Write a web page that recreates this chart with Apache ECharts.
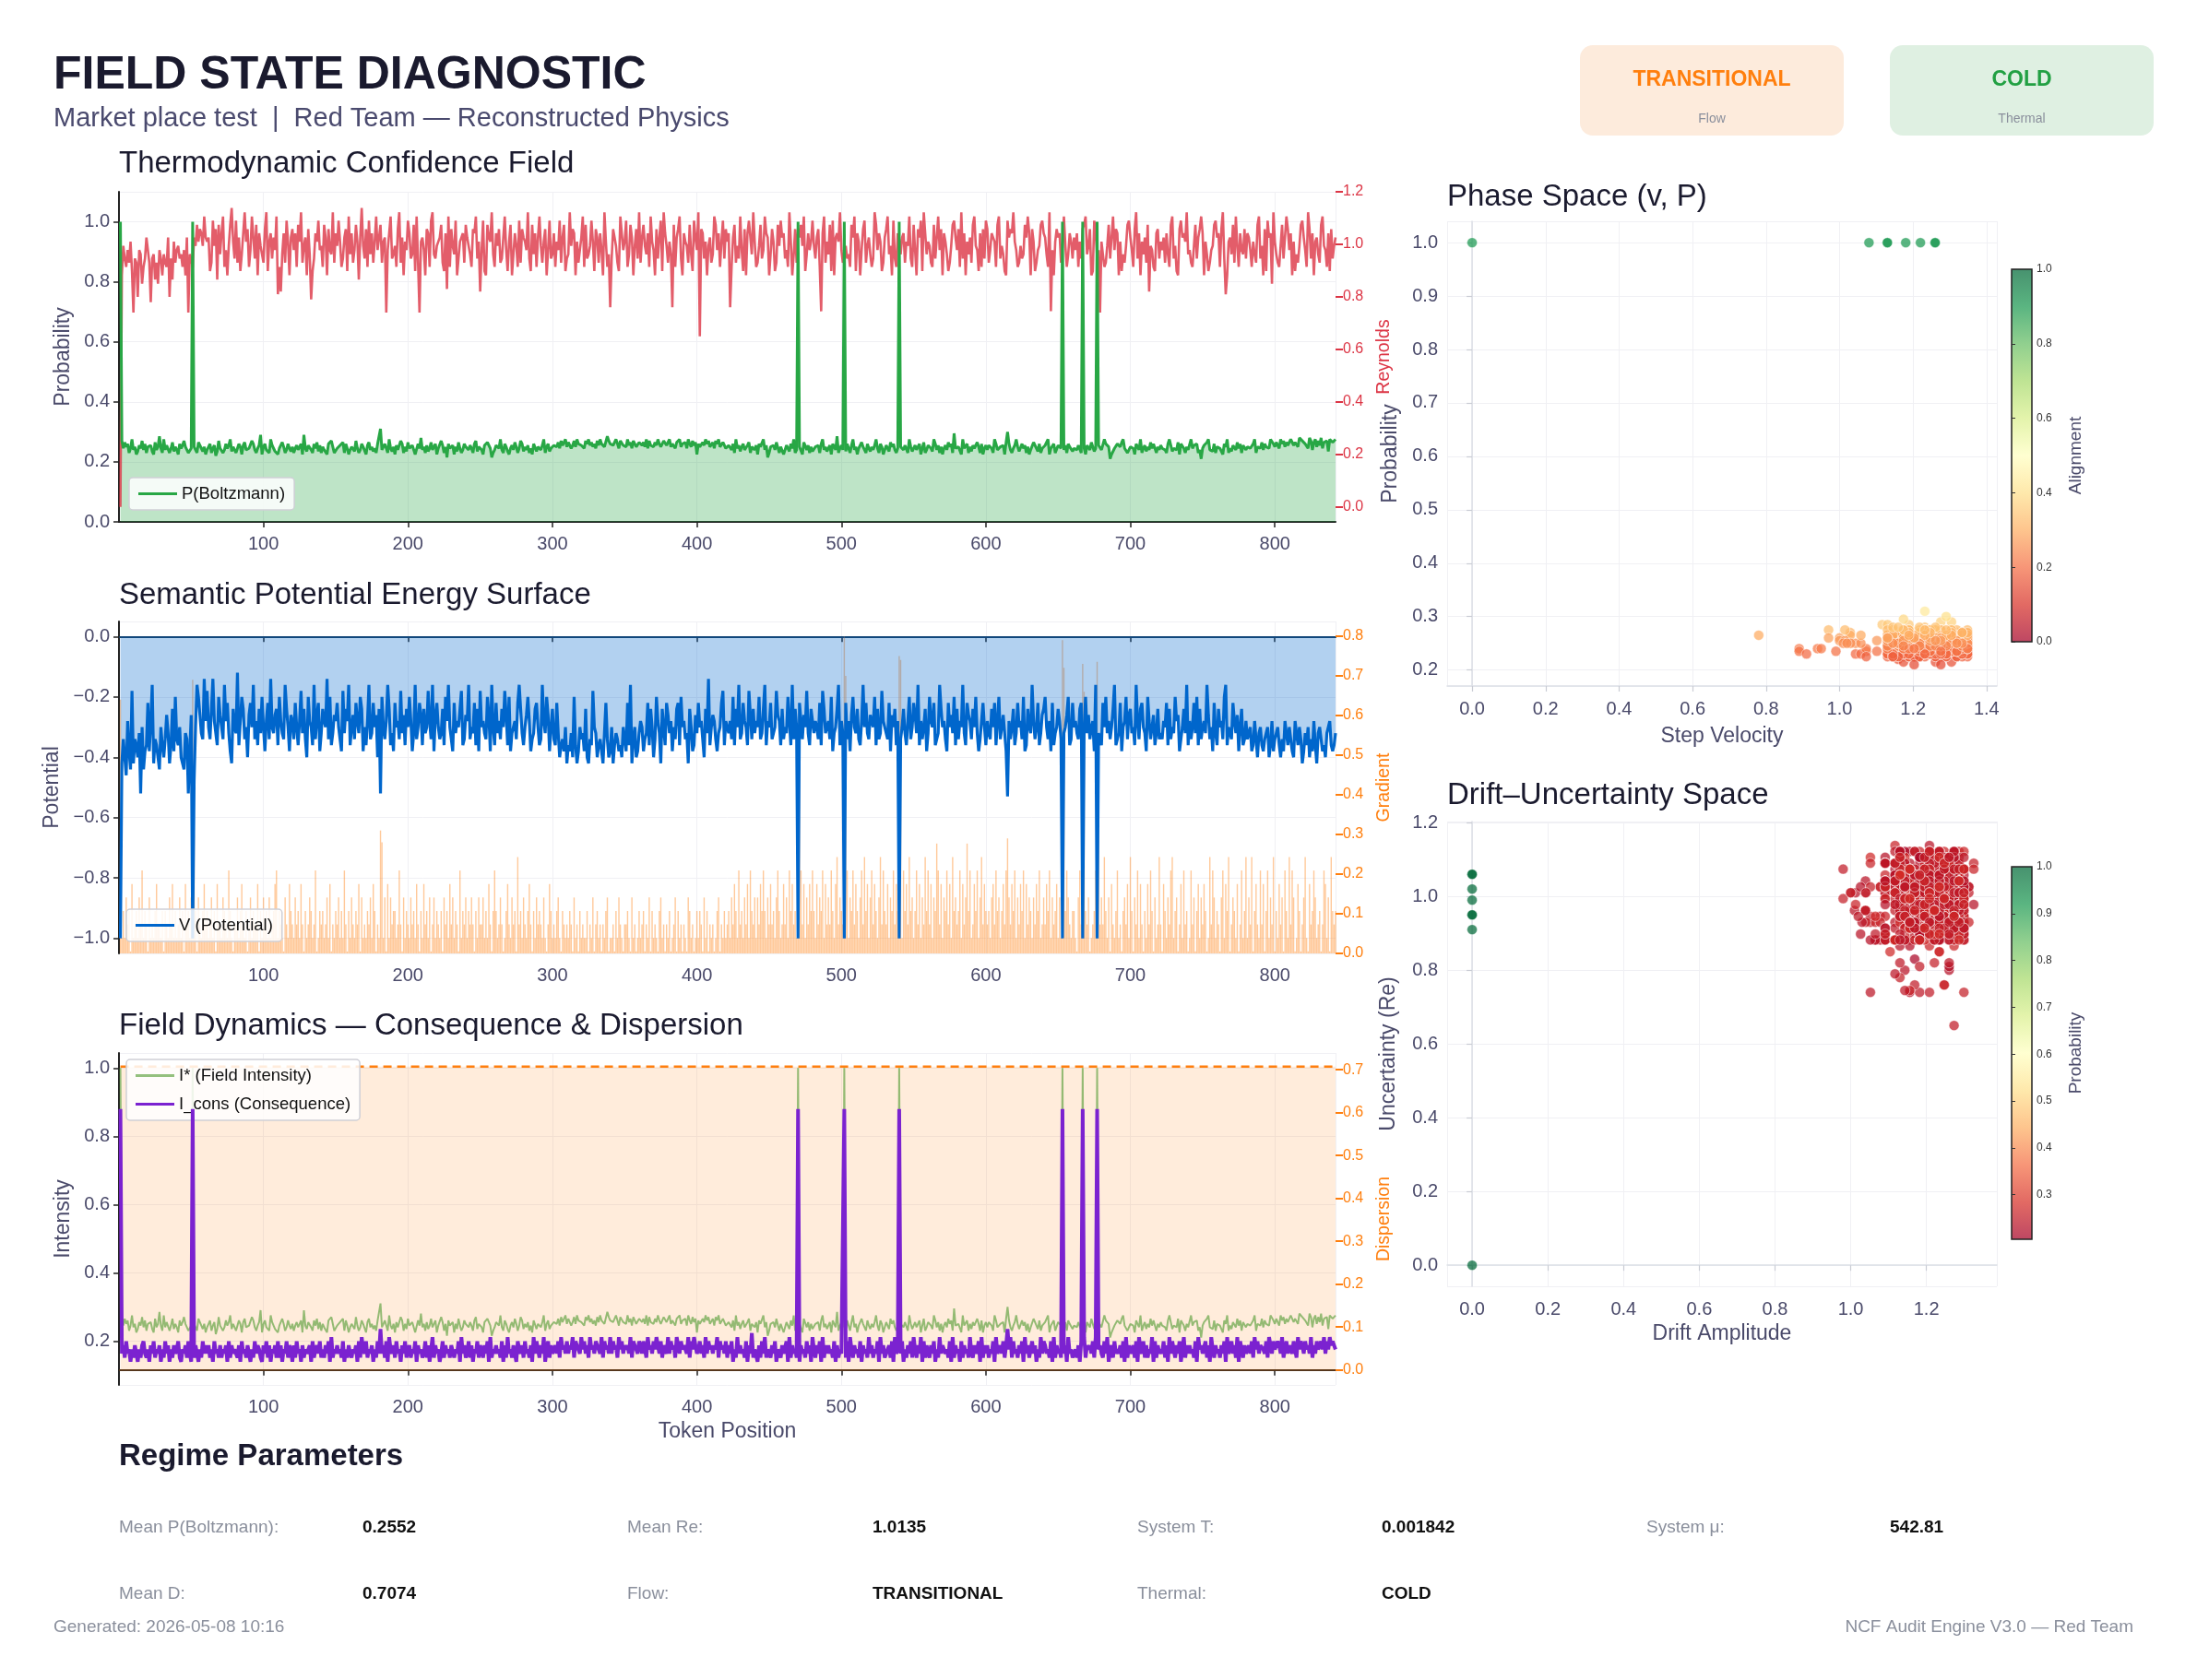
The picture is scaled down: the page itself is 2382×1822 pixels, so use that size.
<!DOCTYPE html>
<html>
<head>
<meta charset="utf-8">
<title>Field State Diagnostic</title>
<script src="https://cdn.jsdelivr.net/npm/echarts@6.0.0/dist/echarts.min.js"></script>
<style>
  html, body { margin: 0; padding: 0; background: #fff; }
  #main { width: 2382px; height: 1822px; }
</style>
</head>
<body>
<div id="main"></div>
<script>
const FONT = '"Liberation Sans", Arial, sans-serif';
const INK = '#1a1a2e';
const SLATE = '#4a4a6a';
const MUTED = '#8a8f9c';

const N = 842; // token positions 1..842

// per-token readings, one character per token (letters a..z or digits 0..9),
// value = base + step * code ; spikes and outliers are listed separately below
const P_CODE = `
mpkolnhkqj lgimkpjnhl kmigojlskh qjmlhkoilj gnkmpljhik nljhomkilg
jlnhkmfipk lhjnkmqilj hknlgmojik lpnjhkmtgl njkhqmlijg kmolhjnkil
hkmjlngtki mljhnkoimh ljkgnmplhi kjmlohnkgj lmipkhjnlk gmojlikhnm
kjlnmhqkil gmjkpnhlio kjmlghnkrj lhmikojlng kjpmhlenkj mgliokhjnl
ljmkhnpilk jgmlonkehj mlkqjhnlig kmjolhkpni ljmhkgnoil kjmqhlnikj
mnlokpmnql onkmplqnom lkpnqmolnk pmqnolkspn omlqnkpomn lqmokpnlmo
nmolqkpmnl omqnlkpomn qlnmkopqln mokqnlpmog nlkomqnplm okpnqlmonk
kmljnhqkmi lnjkmohlkj mgnlkqjmeh lkmjonhlkg jmlinkqhjm lkgonjmhli
jlkmhnqjli kmgnljshkm jlinkhmqjl gkmoljhnki ljmqkhnlgj mkiolnjhkm
lkjmnhqlik mjlngkohjm lkiqnjmhlg kmjolnhukj lmgqkjnhli mkjolhngkm
jmlkhqnjil kmgolnjhkm qlijnkmhlg jkomlinhkj mlqgkjnhim lkojmhnlki
kljmnhqkgm ljonikhmlj kqnmldghkj nmloqkjhil mkgnljqhkm iljoknmhlj
mkljhnqmik ljognmkhlj iqkmlnhjdk mloqjkinhl mkjgnlqhki mljoknhmlj
lmkjnqhlmk ojnlmkqpnl omkqnplomn qpmonlrqpo nmkrpjoqlp mrkonpiqro
pqornsqpmo rqnpsoqrnp qosrpnqmro sqpnroqpsn rqpomsrqnp oqsrnpqomr
pqornsqpmo rqnpsoqrnp qosrpnqmro sqpnroqpsn rqpomsrqnp oqsrnpqomr`;
const P_BASE = 0.195, P_STEP = 0.005;

const RE_CODE = `
mholjnkpig lkhnmfjlqn kolmgkfnlh mkjqhlgpkn olmjnhqkml nqotpsrovq
pqikuosgtm rvjnhotxpl ukqimrwpsj nvqlthromk swiprlqnvo jtmrkuphqs
nrjtpwkoqh smvilrpuno jtqhsnmwkr oupjlqsivm rkntpgqxol sjumrkpvnq
tkpqinrvlm ojswkqhpnu rlmtivkopq nhsrjuwmlo pqtkirnvjs omuhlpqrkt
qomjsrvlpk nuihtqpwmj rosklqvnip thmrojuksq pnwlitmrjq vokpshnulm
rjpnukqtil mwosrhpknq vjtlmoupis qkrnhwpjmt lsqokivrnp ujmtqhoslw
kqtomrjvpn hslquiwrok pmntjqsvlh rpoktmiuqn wjsrlphoqk mvtnrjpuls
prmjqtkolv nishruqmwp jkotlnvrqh mspiktouqr lnjwphmskr qtovimrnpu
olqsjnrvkp mtiuhqrpwn ksolmjtqvi rphnsukoqm jlwtnrpikq svmohuljrp
mqrkpovljt nhsquiwrmp okjtlqvnsh rpmikotuqn sjwlrhpmqk tvonirjslu
sknrqpjtvl omihuqsrwp njkolmtqvr hspiknotur qmjwlnhpsq rktvojmrpl
qnrjplktvm oshiurqnwp mjkotlqvns rhpimkotuq njswlrhpmq ktvonjirsl
pnqkrmjtvl oihsuqrpwm nkjotlqsvr hpmiknotuq rjswlnhpqm tkvojrnmsl
rqnjpmktvl ohsiuqrnwp mkjotlqvsn rhpimkotuq njwslrhpqm ktvonjrisl
oqnrpsmtul kqnrposmtv lnqrpomsku tnqrpvmosl kqnrpsmotu lnqrpomskv
oqnrpsmtul kqnrposmtv lnqrpomsku tnqrpvmosl kqnrpsmotu lnqrpomskv`;
const RE_BASE = 0.77, RE_STEP = 0.016;

const V_CODE = `
nqmpsjoreq mnplvkrong ojdqmnprkn pmilqnhofm nkpqrlmvoi hgkdfilmcj
ekmhcjlnfi kmdjgloqhk lbnjfhmkpi gkdmjnhlfk ojgmcklihn fjlmdhkoij
mgknjelhmp fjkndmigol hjkcmfnlij gkmoelhjdn kimgjlfhok njdmlgkiph
lfkmjdhnlo gkjmelinhk fjoldmkgin hlkejmdoig kmlhnfjdkm ogljkhenmi
jdmklgnhoe kjlmfiodkn gljmhkeinf olkjmgdhln kifjomlhgk nmdjlfiokh
mnglpnmokq nolpfnqokm lohpqmnekl pnmoqlgmpo kqnlmonpkm ogndqmkpol
jkomlgnhkp mfjlqhkngi ljokmhgnfk jmlqhkonil gkjmphlcnk ijmolkgenj
kljmfnhkdm lgjkneimhl jkfmlhdnjk gmlkeijnhm klfjndmhkl gjmikelnhj
ljkmgnehlk jmfolkhdnj lkgmjoifkl hmnjdkglmi jkfnhmlejk lmgoikhnjd
mkhlnjfmkg ildnjmkhol fjkgnmldhk jmogkilfnh mjkdlngijm hkflomjgkn
jlmhkgnjfm kilodjmkhn lgkjmfonhk ldjmkgnlih fkmjognlkh jmdlkifnmg
kjlmhgnkfl imkjodhlmn gkfljmkhdn mlgokjfmih lkndjmhgkl ofjmkinlhm
lmjkgnhmkl fjiomkhldn jmkglfnhmk jldimkogln hkjmfdnklm gjliokhnmj
mlkonjmplk nomlkpnjom lknpmojlnk mopjlnkmqo lnkpmojnql kmonplkjno
nlkmopjnmk lonmkpjlon kmlnojpkml nokmjlpnok mlnjokmpln kjomnlpkmo
nlkmopjnmk lonmkpjlon kmlnojpkml nokmjlpnok mlnjokmpln kjomnlpkmo`;
const V_BASE = -0.10, V_STEP = -0.02;

const GRAD_CODE = `
2131423051 2314261320 4121352213 0321425131 2413052314 1230421352
3124130522 1432163102 2413521302 4132250314 2314123561 3210421532
1423152031 2431260132 3124150213 2413162031 4213250412 1324153021
2314051423 3126204132 1423152031 5231402413 2130423152 4132061324
1324203142 2413152036 3124201352 1423072314 2135203142 3214102531
2134103212 1320412031 2113021402 3120213401 1203142102 2310412013
1230214031 2103412021 3012403120 2104312013 1320413021 2013402131
2314253162 3142516324 1425363142 5231463125 2416352314 3625142536
3152436152 4263157243 2536143625 3146273514 6253147263 2514362537
4163527341 3625142736 2514386251 4362517342 3615248361 2536147253
2314526341 3526142536 1425361524 3142536124 2536142351 4125364213
3104625132 4012361524 2731405213 6120342517 3042615203 1526304127
2053142671 3402516230 1624035142 5301726413 2046153702 4315026137
1427035216 2503614270 3152406317 2640153024 7105236412 3026514073
2316045127 4032615302 1736204513 2450316207 5123064312 2604153216
2316045127 4032615302 1736204513 2450316207 5123064312 2604153216`;
const GRAD_BASE = 0.005, GRAD_STEP = 0.034;

const ICONS_CODE = `
5463745253 6425367435 2647354625 3746253645 7325463742 5364253746
4635274536 3546273645 5362745364 2537465326 4736254637 3625473652
6374526354 4627356473 5364728354 6453725364 3546273854 7354625374
5463728546 3745264735 6354726453 4736258364 5247364536 6354728463
4736254736 5364728354 6453726384 5364275463 7453628475 3648257364
5647385647 4658376548 5746385647 6548375648 4756385746 5648376547
6475385647 5864736548 4756386475 6548375864 5746384756 4658375647
3647253846 4537264935 5263748354 3647255364 4728364537 2645374628
5364728364 6453726354 4637285364 5372645384 6354728463 4563728456
4725364738 5364827364 3647253846 6453728364 5273645384 3645728364
6354728456 4736258374 5364728463 3746253847 6453728364 5374628453
4536274836 5647382564 3748256374 5463728364 4637285473 6354827364
5473628475 3647258364 6453728564 4736285364 5364728457 4638275364
5647385746 6547386475 5764835746 6475385764 7564836475 6758475867
6574857364 7586475867 6475867584 7586475867 5847586475 6758475867
6574857364 7586475867 6475867584 7586475867 5847586475 6758475867`;
const ICONS_BASE = 0.115, ICONS_STEP = 0.012;

const VEL_CODE = `
rpwmtkyqnu pshvoxmrlt qwnjspuiyo mtrxlpvkqs nwortjumxp lsvqnyrmtk
pxmsqvltnw korympsfuq vnxlptmwrk oyqsnuhvmp txlrkwonsq mvjyptrnxo
sqwmpvntkx oryjlsumqw pnvtxkmrsl ywqopjanst vmkxrqpwol tsnymvjrpu
qvntyxmrpl skwocquvnm rxtplymsqk wnovjrtums xpklqyvnrw mtosjxpuqn
vmrxsqpkwt nyojlurmsv qxpntwkmro yslvqdptnx uwmrkosqyv lpntxjrmqw
oxsqmvntrw kpyulqsmxj vnortpwdqm ysxlnvrjpt oqumwxskyn rvplqtmjox
trnvqmxsop wkyljurnqs mtxpvowkrn lysqjmvtcu nprkqwomsy vlxtnjqrmp
wqspmxnkrv tyoljsuwqm pnxrvktmsy oqwljnepux ksmtvyqnor wlpxmjsutq
nvrqxmtpsk yowljrnumq sxptvkmroy nqwlsfxtpv rmukoyqswn tlvxrmpjqo
sxqnvmrtwk pyolujsqnx mrvtpwbyos qnlxjvrmut wspkyonqxr vlmtjsupqn
rwpnxmsvqt kyolujrsnw mqxvptkyro snlwexqmuv trpkyosnwq xlmvjrtupo
qxrnwmpvst kolyujqrnx msvwptfryo qnlxjsrmvu wtpkyonsqx rlmwjvtupq
wsqnxmrvpt kyoljusnqx wmrvtpkyos nqxbjrwmuv stpkoynqxr wlmvjstupq
pwrnxmqvst kyoljurqnw xmsvtpkyro qnwejxsmvu rtpkyonqwx slmvjrtupq
xqrnwmpvts kyolujsqnx wmrvptkyos nqlxjwrmuv tspkyoqnxr wlmvjstupq
xqrnwmpvts kyolujsqnx wmrvptkyos nqlxjwrmuv tspkyoqnxr wlmvjstupq`;
const VEL_BASE = 1.0, VEL_STEP = 0.0145;

const DRIFT_CODE = `
pmtkrvnqhe xslpuimwro tkqnvjsxpf mrokuwqbtn vplsjrxmog kunwtpilrs
qnvlsowkrd thpuxjnqsl owmrkvtdnj suqlxohrme pktnwsjqou lrmvxkpgts
rtmpkwnvsf oqjxhurmtp lnsvkowqrd mtxpluhnsq wrkvompjte nlsqurhkvo
tnrlxpmqwk soujvgrntp mxlqskwoty vrnpuhmxlq tskwojnrvp mqluxtkhse
plwrnxtmqk svojuhrlpw nmtxkqsoca rlupwnhmtx kqsvojrlnu pwmtxhkqso
mqvsrknwtp loxjuhrfms qvpltkwyoj nrmusqhlvt pkwxoseurn quvltphkwx
snqxmrtwpk vloujhsnrg mxtpvkwlos jrnqumhzpt svklwojnrq mutxphvkls
rvnwxmtqps kloujhrnvw qmxtpskwle jrnvuqmhxp tslkwodvnr qmutxphksl
wqnsxmrtvp kloehjrnsq wmxtvpklos rjnquwmhyt psvklojrnw qumtxhpvsk
nrwqxmstpv kloujfnrwq smxtvpkzls jrnqwumhxt spvklojrnq wumtxhpsvk
qsnwxrmtpv klojuhqsnr wmxtvpkcos jnrqwumxht psvkljorng wumxthpsvk
rwqnxsmtvp lkoujhrwqn smytvplkos jrnwqumxht pvskljoqre wmuxtphvsk
swqnxrtmvp lkojuhswqd rmxtvplkos jwnrqumzth pvsklojqnr wmuxtphvks
wsqnxrmtpv lkoujhwsqn rmxtpvlkob jwnqrumxth psvkfjoqnr wmutxphskv
qswnxrmtvp klojuhqswn rmxtvpklos jwnqrumxht psvklojqnr wmutxphvsk
qswnxrmtvp klojuhqswn rmxtvpklos jwnqrumxht psvklojqnr wmutxphvsk`;
const DRIFT_BASE = 1.0, DRIFT_STEP = 0.013;

// spikes and outliers: [token, value]
const SPIKE_X = [1, 51, 470, 502, 540, 653, 667, 677];
const P_EVENTS = [[1, 1], [51, 1], [470, 1], [502, 1], [540, 1], [653, 1], [667, 1], [677, 1],
  [181, 0.31], [615, 0.30]];
const RE_EVENTS = [[1, 0.0], [10, 0.74], [13, 0.80], [22, 0.78], [35, 0.80], [48, 0.74], [51, 0.91],
  [110, 0.81], [112, 0.82], [133, 0.79], [185, 0.74], [208, 0.74], [227, 0.83], [250, 0.82],
  [340, 0.76], [383, 0.76], [402, 0.65], [423, 0.76], [470, 1.06], [486, 0.745], [502, 0.95],
  [540, 1.02], [645, 0.745], [653, 0.99], [667, 1.06], [677, 0.95], [679, 0.74], [713, 0.82],
  [766, 0.81], [798, 0.85]];
const V_EVENTS = [[1, -1], [51, -1], [470, -1], [502, -1], [540, -1], [653, -1], [667, -1], [677, -1],
  [52, -0.48], [181, -0.52], [615, -0.53]];
const GRAD_EVENTS = [[1, 0.64], [51, 0.69], [52, 0.30], [181, 0.31], [182, 0.28], [470, 0.58],
  [471, 0.55], [502, 0.80], [503, 0.70], [540, 0.75], [541, 0.74], [615, 0.29], [653, 0.79],
  [654, 0.72], [667, 0.73], [668, 0.66], [677, 0.735], [678, 0.45]];
const ICONS_EVENTS = [[1, 0.88], [51, 0.88], [470, 0.88], [502, 0.88], [540, 0.88], [653, 0.88],
  [667, 0.88], [677, 0.88], [181, 0.235], [615, 0.235]];
const VEL_EVENTS = [[1, 0], [51, 1.08], [470, 1.13], [502, 1.13], [540, 1.18], [653, 1.22],
  [667, 1.26], [677, 1.26], [37, 0.78], [88, 0.89], [150, 0.89], [212, 0.91], [260, 0.94],
  [300, 0.95], [333, 0.97], [390, 0.97], [430, 0.99], [560, 1.00], [610, 1.01], [700, 1.03], [760, 1.02]];
const DRIFT_EVENTS = [[1, 0], [51, 0], [470, 0], [502, 0], [540, 0], [653, 0], [667, 0], [677, 0],
  [66, 0.98], [240, 0.98], [350, 1.00], [410, 1.04], [520, 1.01], [590, 1.03], [720, 1.02], [800, 1.04]];

const DISPERSION = 0.7074;

const PARAM_LABELS = [['Mean P(Boltzmann):', 'Mean Re:', 'System T:', 'System \u03bc:'],
                      ['Mean D:', 'Flow:', 'Thermal:']];
const PARAM_VALUES = [['0.2552', '1.0135', '0.001842', '542.81'],
                      ['0.7074', 'TRANSITIONAL', 'COLD']];

function decode(code, base, step, events) {
  const s = code.replace(/\s+/g, '');
  const out = [];
  for (let i = 0; i < N; i++) {
    const c = s.charCodeAt(i);
    const k = c >= 97 ? c - 97 : c - 48;
    out.push(+(base + step * k).toFixed(4));
  }
  events.forEach(([x, v]) => { out[x - 1] = v; });
  return out;
}

const P = decode(P_CODE, P_BASE, P_STEP, P_EVENTS);
const RE = decode(RE_CODE, RE_BASE, RE_STEP, RE_EVENTS);
const V = decode(V_CODE, V_BASE, V_STEP, V_EVENTS);
const GRAD = decode(GRAD_CODE, GRAD_BASE, GRAD_STEP, GRAD_EVENTS);
const ICONS = decode(ICONS_CODE, ICONS_BASE, ICONS_STEP, ICONS_EVENTS);
const VEL = decode(VEL_CODE, VEL_BASE, VEL_STEP, VEL_EVENTS);
const DRIFT = decode(DRIFT_CODE, DRIFT_BASE, DRIFT_STEP, DRIFT_EVENTS);

const byToken = arr => arr.map((v, i) => [i + 1, v]);

const RDYLGN = ['#a50026', '#d73027', '#f46d43', '#fdae61', '#fee08b', '#ffffbf',
                '#d9ef8b', '#a6d96a', '#66bd63', '#1a9850', '#006837'];
// alignment colours for the phase plot: warm for the low-probability cluster, green at P = 1
const PHASE_COLORS = ['#dd3a2b', '#f46d43', '#fdae61', '#fee08b', '#ffffbf']
  .concat(new Array(20).fill('#1a9850'));

// ---------- axes helpers ----------
const fmt1 = v => v.toFixed(1).replace('-', '\u2212');
const gridLine = { show: true, lineStyle: { color: '#f0f0f4', width: 1 } };
const spine = { show: true, lineStyle: { color: '#222', width: 2 } };
const darkTick = { show: true, length: 6, lineStyle: { color: '#222', width: 1.5 } };

function tokenAxis(gridIndex, name) {
  return {
    type: 'value', gridIndex, min: 0, max: N, interval: 100,
    axisLine: spine, axisTick: darkTick, splitLine: gridLine,
    axisLabel: { color: SLATE, fontSize: 20, fontFamily: FONT, margin: 14, showMinLabel: false, showMaxLabel: false },
    name: name || '', nameLocation: 'middle', nameGap: 39,
    nameTextStyle: { color: SLATE, fontSize: 23, fontFamily: FONT }
  };
}
function leftAxis(gridIndex, min, max, step, name, gap, showMin, showMax) {
  return {
    type: 'value', gridIndex, position: 'left', min, max, minInterval: step, maxInterval: step,
    axisLine: spine, axisTick: darkTick, splitLine: gridLine,
    axisLabel: { color: SLATE, fontSize: 20, fontFamily: FONT, margin: 10, formatter: fmt1,
      showMinLabel: showMin, showMaxLabel: showMax },
    name, nameLocation: 'middle', nameRotate: 90, nameGap: gap,
    nameTextStyle: { color: SLATE, fontSize: 23, fontFamily: FONT }
  };
}
function rightAxis(gridIndex, min, max, step, name, color, showMin, showMax) {
  return {
    type: 'value', gridIndex, position: 'right', min, max, minInterval: step, maxInterval: step,
    axisLine: { show: false }, splitLine: { show: false },
    axisTick: { show: true, length: 8, lineStyle: { color, width: 2 } },
    axisLabel: { color, fontSize: 16, fontFamily: FONT, margin: 8, formatter: fmt1,
      showMinLabel: showMin, showMaxLabel: showMax },
    name, nameLocation: 'middle', nameRotate: 90, nameGap: 43,
    nameTextStyle: { color, fontSize: 19.5, fontFamily: FONT }
  };
}
const lightLine = { show: true, lineStyle: { color: '#dcdfe6', width: 1.5 } };
const lightTick = { show: true, length: 6, lineStyle: { color: '#c9ccd4', width: 1.2 } };
function scatterAxis(gridIndex, min, max, step, name, gap, isY) {
  return {
    type: 'value', gridIndex, min, max, minInterval: step, maxInterval: step,
    axisLine: lightLine, axisTick: lightTick, splitLine: gridLine,
    axisLabel: { color: SLATE, fontSize: 20, fontFamily: FONT, margin: isY ? 10 : 15, formatter: fmt1,
      showMinLabel: false, showMaxLabel: false },
    name, nameLocation: 'middle', nameGap: gap, nameRotate: isY ? 90 : 0,
    nameTextStyle: { color: SLATE, fontSize: 23, fontFamily: FONT }
  };
}
function barAxis(gridIndex, min, max, step, name, showMin) {
  return {
    type: 'value', gridIndex, position: 'right', min, max, minInterval: step, maxInterval: step,
    axisLine: { show: false }, splitLine: { show: false },
    axisTick: { show: true, length: 4, lineStyle: { color: '#333', width: 1 } },
    axisLabel: { color: '#333', fontSize: 12, fontFamily: FONT, margin: 5, formatter: fmt1,
      showMinLabel: showMin, showMaxLabel: true },
    name, nameLocation: 'middle', nameRotate: 90, nameGap: 38,
    nameTextStyle: { color: SLATE, fontSize: 19, fontFamily: FONT }
  };
}

// ---------- graphic (header, badges, titles, colorbars, parameters) ----------
const txt = (x, y, text, font, fill, align) => ({
  type: 'text', x, y, silent: true,
  style: { text, font: font + ' ' + FONT, fill, align: align || 'left', verticalAlign: 'middle' }
});
const cbStops = RDYLGN.map((c, i) => ({ offset: i / 10, color: c }));
const colorbar = (x, y, w, h) => [
  { type: 'rect', shape: { x, y, width: w, height: h }, silent: true,
    style: { fill: new echarts.graphic.LinearGradient(0, 1, 0, 0, cbStops), opacity: 0.72 } },
  { type: 'rect', shape: { x, y, width: w, height: h }, silent: true,
    style: { fill: 'none', stroke: '#222', lineWidth: 1.5 } }
];

const graphic = [
  txt(58, 82, 'FIELD STATE DIAGNOSTIC', 'bold 50px', INK),
  txt(58, 129, 'Market place test  |  Red Team \u2014 Reconstructed Physics', '29px', '#4a4a6e'),
  { type: 'rect', shape: { x: 1713, y: 49, width: 286, height: 98, r: 14 }, silent: true, style: { fill: '#fdebdc' } },
  { type: 'rect', shape: { x: 2049, y: 49, width: 286, height: 98, r: 14 }, silent: true, style: { fill: '#dff0e2' } },
  txt(1856, 87, 'TRANSITIONAL', 'bold 23px', '#ff7f0e', 'center'),
  txt(1856, 129, 'Flow', '14px', MUTED, 'center'),
  txt(2192, 87, 'COLD', 'bold 23px', '#22a043', 'center'),
  txt(2192, 129, 'Thermal', '14px', MUTED, 'center'),
  txt(129, 178, 'Thermodynamic Confidence Field', '33px', INK),
  txt(129, 646, 'Semantic Potential Energy Surface', '33px', INK),
  txt(129, 1113, 'Field Dynamics \u2014 Consequence & Dispersion', '33px', INK),
  txt(1569, 214, 'Phase Space (v, P)', '33px', INK),
  txt(1569, 863, 'Drift\u2013Uncertainty Space', '33px', INK),
  ...colorbar(2181, 292, 22, 404),
  ...colorbar(2181, 940, 22, 404),
  txt(129, 1580, 'Regime Parameters', 'bold 33px', INK),
  txt(58, 1765, 'Generated: 2026-05-08 10:16', '19px', MUTED),
  txt(2313, 1765, 'NCF Audit Engine V3.0 \u2014 Red Team', '19px', MUTED, 'right')
];
const colLabelX = [129, 680, 1233, 1785], colValueX = [393, 946, 1498, 2049], rowY = [1657, 1729];
PARAM_LABELS.forEach((row, r) => row.forEach((label, c) => {
  graphic.push(txt(colLabelX[c], rowY[r], label, '19px', MUTED));
  graphic.push(txt(colValueX[c], rowY[r], PARAM_VALUES[r][c], 'bold 19px', '#111'));
}));

// ---------- chart ----------
const chart = echarts.init(document.getElementById('main'), null, { renderer: 'canvas' });

const legendBase = {
  orient: 'vertical', icon: 'rect', itemWidth: 42, itemHeight: 3, itemGap: 12,
  backgroundColor: 'rgba(255,255,255,0.85)', borderColor: '#cfcfd6', borderWidth: 1.5, borderRadius: 4,
  padding: [8, 10], textStyle: { color: '#111', fontSize: 18.5, fontFamily: FONT }, selectedMode: false
};

const option = {
  animation: false,
  backgroundColor: '#ffffff',
  textStyle: { fontFamily: FONT },
  graphic,
  grid: [
    { left: 129, top: 208, width: 1319, height: 358, outerBoundsMode: 'none' },
    { left: 129, top: 674, width: 1319, height: 360, outerBoundsMode: 'none' },
    { left: 129, top: 1142, width: 1319, height: 360, outerBoundsMode: 'none' },
    { left: 1569, top: 240, width: 596, height: 504, outerBoundsMode: 'none' },
    { left: 1569, top: 891, width: 596, height: 504, outerBoundsMode: 'none' },
    { left: 2181, top: 292, width: 22, height: 404, outerBoundsMode: 'none' },
    { left: 2181, top: 940, width: 22, height: 404, outerBoundsMode: 'none' }
  ],
  xAxis: [
    tokenAxis(0), tokenAxis(1), tokenAxis(2, 'Token Position'),
    scatterAxis(3, -0.068, 1.428, 0.2, 'Step Velocity', 43, false),
    scatterAxis(4, -0.066, 1.386, 0.2, 'Drift Amplitude', 40, false),
    { type: 'value', gridIndex: 5, show: false, min: 0, max: 1 },
    { type: 'value', gridIndex: 6, show: false, min: 0, max: 1 }
  ],
  yAxis: [
    leftAxis(0, 0, 1.1, 0.2, 'Probability', 48, true, false),
    rightAxis(0, -0.057, 1.2, 0.2, 'Reynolds', '#dc3545', false, true),
    leftAxis(1, -1.05, 0.05, 0.2, 'Potential', 59, false, false),
    rightAxis(1, 0, 0.837, 0.1, 'Gradient', '#ff7f0e', true, false),
    leftAxis(2, 0.071, 1.044, 0.2, 'Intensity', 48, false, false),
    rightAxis(2, -0.035, 0.739, 0.1, 'Dispersion', '#ff7f0e', false, false),
    scatterAxis(3, 0.17, 1.04, 0.1, 'Probability', 50, true),
    scatterAxis(4, -0.057, 1.203, 0.2, 'Uncertainty (Re)', 52, true),
    barAxis(5, 0, 1, 0.2, 'Alignment', true),
    barAxis(6, 0.205, 1.0, 0.1, 'Probability', false)
  ],
  legend: [
    { ...legendBase, left: 140, top: 518, data: ['P(Boltzmann)'] },
    { ...legendBase, left: 137, top: 986, data: ['V (Potential)'] },
    { ...legendBase, left: 137, top: 1149, data: ['I* (Field Intensity)', 'I_cons (Consequence)'] }
  ],
  visualMap: [
    { type: 'continuous', show: false, seriesIndex: 7, dimension: 1, min: 0.2, max: 1.0,
      inRange: { color: PHASE_COLORS } },
    { type: 'continuous', show: false, seriesIndex: 8, dimension: 2, min: 0.205, max: 1.0,
      inRange: { color: RDYLGN } }
  ],
  series: [
    { name: 'Reynolds', type: 'line', xAxisIndex: 0, yAxisIndex: 1, data: byToken(RE),
      showSymbol: false, color: 'rgba(220,53,69,0.8)', lineStyle: { width: 2.6 } },
    { name: 'P(Boltzmann)', type: 'line', xAxisIndex: 0, yAxisIndex: 0, data: byToken(P),
      showSymbol: false, color: '#28a745', lineStyle: { width: 3 },
      areaStyle: { color: 'rgba(40,167,69,0.3)', opacity: 1 } },
    { name: 'V (Potential)', type: 'line', xAxisIndex: 1, yAxisIndex: 2, data: byToken(V),
      showSymbol: false, color: '#0066cc', lineStyle: { width: 3.2 },
      areaStyle: { color: 'rgba(0,102,204,0.3)', opacity: 1 },
      markLine: { silent: true, symbol: 'none', label: { show: false },
        lineStyle: { color: 'rgba(0,102,204,0.35)', width: 2, type: 'solid' }, data: [{ yAxis: 0 }] } },
    { name: 'Gradient', type: 'bar', xAxisIndex: 1, yAxisIndex: 3, data: byToken(GRAD),
      barWidth: 1.4, itemStyle: { color: 'rgba(255,127,14,0.42)' } },
    { name: 'I* (Field Intensity)', type: 'line', xAxisIndex: 2, yAxisIndex: 4, data: byToken(P),
      showSymbol: false, color: 'rgba(90,160,60,0.65)', lineStyle: { width: 2 }, z: 3 },
    { name: 'I_cons (Consequence)', type: 'line', xAxisIndex: 2, yAxisIndex: 4, data: byToken(ICONS),
      showSymbol: false, color: '#7b22d0', lineStyle: { width: 4 }, z: 4 },
    { name: 'Dispersion', type: 'line', xAxisIndex: 2, yAxisIndex: 5, data: [[1, DISPERSION], [N, DISPERSION]],
      showSymbol: false, color: '#ff7f0e', lineStyle: { width: 2.6, type: [9, 6] }, z: 1,
      areaStyle: { color: 'rgba(255,127,14,0.15)', opacity: 1 },
      markLine: { silent: true, symbol: 'none', label: { show: false },
        lineStyle: { color: 'rgba(255,127,14,0.3)', width: 1.5, type: 'solid' }, data: [{ yAxis: 0 }] } },
    { name: 'Phase', type: 'scatter', xAxisIndex: 3, yAxisIndex: 6,
      data: VEL.map((v, i) => [v, P[i]]), symbolSize: 11,
      itemStyle: { opacity: 0.72, borderColor: 'rgba(255,255,255,0.85)', borderWidth: 0.8 } },
    { name: 'Drift', type: 'scatter', xAxisIndex: 4, yAxisIndex: 7,
      data: DRIFT.map((d, i) => [d, RE[i], P[i]]), symbolSize: 11,
      itemStyle: { opacity: 0.72, borderColor: 'rgba(255,255,255,0.85)', borderWidth: 0.8 } },
    { type: 'line', xAxisIndex: 5, yAxisIndex: 8, data: [], silent: true },
    { type: 'line', xAxisIndex: 6, yAxisIndex: 9, data: [], silent: true }
  ]
};

chart.setOption(option);
</script>
</body>
</html>
